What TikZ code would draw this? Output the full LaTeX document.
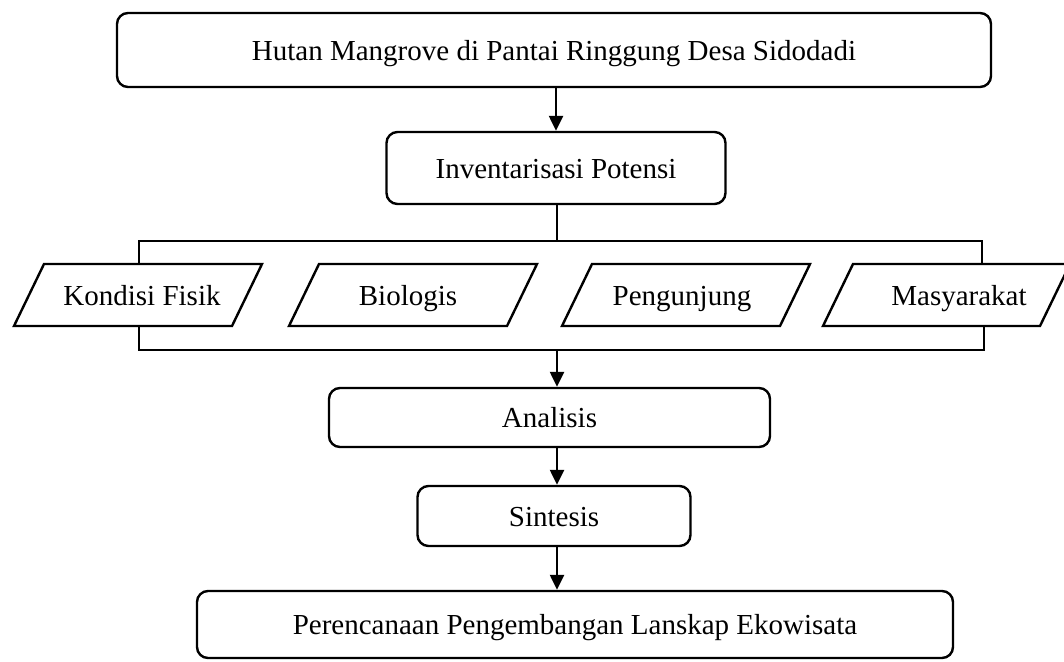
\documentclass[tikz,border=0pt]{standalone}
\usepackage{fontspec}
\setmainfont{Liberation Serif}
\usetikzlibrary{arrows.meta,calc}
\begin{document}
\begin{tikzpicture}[x=1pt,y=-1pt,
  txt/.style={font=\fontsize{29}{34}\selectfont, text height=22pt, text depth=2pt},
  box/.style={txt, draw, line width=2.4pt, rounded corners=11pt, inner sep=0pt},
  lbl/.style={txt, inner sep=0pt},
  ln/.style={line width=2.4pt},
  arr/.style={line width=2.4pt, -{Triangle[length=15pt,width=14pt]}}]
\useasboundingbox (0,0) rectangle (1064,661);
% main boxes
\node[box, minimum width=874pt, minimum height=74pt] (top) at (554,50) {Hutan Mangrove di Pantai Ringgung Desa Sidodadi};
\node[box, minimum width=339pt, minimum height=72pt] (inv) at (556,168) {Inventarisasi Potensi};
\node[box, minimum width=441pt, minimum height=59pt] (ana) at (549.5,417.5) {Analisis};
\node[box, minimum width=273pt, minimum height=60pt] (sin) at (554,516) {Sintesis};
\node[box, minimum width=756pt, minimum height=67pt] (per) at (575,624.5) {Perencanaan Pengembangan Lanskap Ekowisata};
% parallelograms
\draw[ln] (44,264) -- (262,264) -- (232,326) -- (14,326) -- cycle;
\draw[ln] (319,264) -- (537,264) -- (507,326) -- (289,326) -- cycle;
\draw[ln] (592,264) -- (810,264) -- (780,326) -- (562,326) -- cycle;
\draw[ln] (853,264) -- (1070,264) -- (1040,326) -- (823,326) -- cycle;
\node[lbl] (kon) at (142,295) {Kondisi Fisik};
\node[lbl] (bio) at (408,295) {Biologis};
\node[lbl] (pen) at (682,295) {Pengunjung};
\node[lbl] (mas) at (959,295) {Masyarakat};
% bracket coordinates
\coordinate (x) at (557,0);
\coordinate (btl) at (139,241);
\coordinate (btr) at (982,241);
\coordinate (bbl) at (139,350);
\coordinate (bbr) at (984,350);
\coordinate (kt) at (139,264);
\coordinate (kb) at (139,326);
\coordinate (mt) at (982,264);
\coordinate (mb) at (984,326);
% connectors
\draw[arr] (top.south -| inv.north) -- (inv.north);
\draw[ln] (inv.south -| x) -- (btl -| x);
\draw[ln] (kt) -- (btl) -- (btr) -- (mt);
\draw[ln] (kb) -- (bbl) -- (bbr) -- (mb);
\draw[arr] (bbl -| x) -- (ana.north -| x);
\draw[arr] (ana.south -| x) -- (sin.north -| x);
\draw[arr] (sin.south -| x) -- (per.north -| x);
\end{tikzpicture}
\end{document}
